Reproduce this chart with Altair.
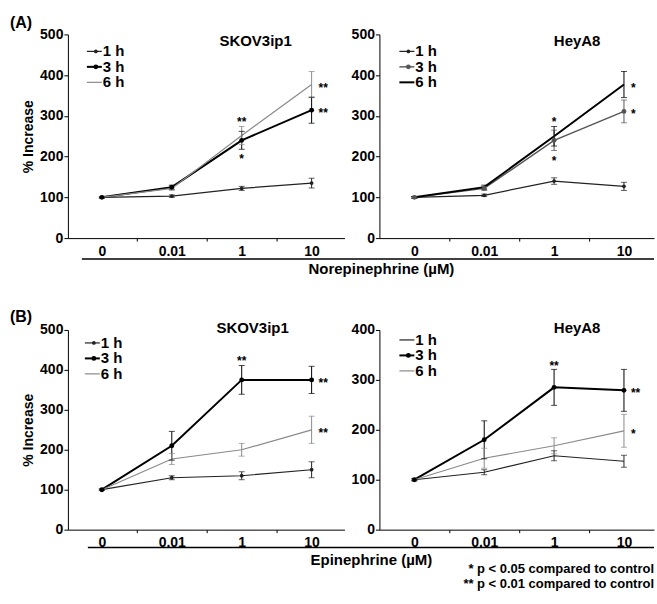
import altair as alt
import pandas as pd

FONT = "Liberation Sans"
doses = ["0", "0.01", "1", "10"]
series = ["1 h", "3 h", "6 h"]

# ---- (A) Norepinephrine, SKOV3ip1
a1_1h = [100, 103, 122, 135]
a1_1h_err = [2, 3, 5, 12]
a1_3h = [100, 125, 240, 314]
a1_3h_err = [2, 5, 22, 32]
a1_6h = [100, 122, 252, 377]
a1_6h_err = [2, 5, 22, 32]
a1_star_idx = [2, 2, 3, 3]
a1_star_val = [292, 201, 377, 314]
a1_star_txt = ["**", "*", "**", "**"]
a1_star_side = ["c", "c", "r", "r"]

# ---- (A) Norepinephrine, HeyA8
a2_1h = [100, 105, 140, 127]
a2_1h_err = [2, 3, 8, 10]
a2_3h = [100, 122, 240, 311]
a2_3h_err = [2, 5, 25, 28]
a2_6h = [100, 125, 250, 377]
a2_6h_err = [2, 5, 24, 32]
a2_star_idx = [2, 2, 3, 3]
a2_star_val = [292, 196, 377, 311]
a2_star_txt = ["*", "*", "*", "*"]
a2_star_side = ["c", "c", "r", "r"]

# ---- (B) Epinephrine, SKOV3ip1
b1_1h = [100, 130, 135, 150]
b1_1h_err = [2, 5, 10, 20]
b1_3h = [100, 210, 375, 375]
b1_3h_err = [2, 36, 36, 34]
b1_6h = [100, 177, 200, 250]
b1_6h_err = [2, 14, 16, 34]
b1_star_idx = [2, 3, 3]
b1_star_val = [430, 375, 250]
b1_star_txt = ["**", "**", "**"]
b1_star_side = ["c", "r", "r"]

# ---- (B) Epinephrine, HeyA8
b2_1h = [100, 115, 148, 137]
b2_1h_err = [2, 5, 10, 12]
b2_3h = [100, 180, 285, 279]
b2_3h_err = [2, 38, 36, 42]
b2_6h = [100, 143, 168, 198]
b2_6h_err = [2, 20, 16, 33]
b2_star_idx = [2, 3, 3]
b2_star_val = [333, 279, 198]
b2_star_txt = ["**", "**", "*"]
b2_star_side = ["c", "r", "r"]

label_expr = " : ".join(f"datum.value == {i} ? '{d}'" for i, d in enumerate(doses)) + " : ''"


def panel(vals, errs, stars, title, ymax, width, height, xdom, colors, widths, sizes,
          title_x, title_y, leg_x, leg_y, ytitle=None, extras=()):
    rows = []
    for s, v, e in zip(series, vals, errs):
        for i, (vv, ee) in enumerate(zip(v, e)):
            rows.append({"series": s, "idx": i, "value": vv, "lo": vv - ee, "hi": vv + ee})
    df = pd.DataFrame(rows)
    sidx, sval, stxt, sside = stars
    sdf = pd.DataFrame({"idx": sidx, "value": sval, "txt": stxt, "side": sside})

    xs = alt.Scale(domain=xdom, nice=False, zero=False)
    ys = alt.Scale(domain=[0, ymax], nice=False, zero=True)
    xaxis = alt.Axis(values=[0, 0.5, 1, 1.5, 2, 2.5, 3], labelExpr=label_expr, grid=False,
                     tickSize=3, tickOpacity={"condition": {"test": "datum.value % 1 != 0", "value": 1}, "value": 0},
                     labelOverlap=False, labelFlush=False,
                     labelFont=FONT, labelFontWeight="bold", labelFontSize=14, labelColor="black",
                     labelPadding=3, domainColor="black", tickColor="black", title=None)
    yaxis = alt.Axis(values=list(range(0, ymax + 1, 100)), grid=False, tickSize=4,
                     labelFont=FONT, labelFontWeight="bold", labelFontSize=14, labelColor="black",
                     labelPadding=1, domainColor="black", tickColor="black",
                     title=ytitle if ytitle else None, titleFont=FONT, titleFontWeight="bold",
                     titleFontSize=14, titleColor="black", titlePadding=4)
    X = alt.X("idx:Q", scale=xs, axis=xaxis)
    color = alt.Color("series:N", scale=alt.Scale(type="ordinal", domain=series, range=colors), legend=None)
    sw = alt.StrokeWidth("series:N", scale=alt.Scale(type="ordinal", domain=series, range=widths), legend=None)
    sz = alt.Size("series:N", scale=alt.Scale(type="ordinal", domain=series, range=sizes), legend=None)

    base = alt.Chart(df)
    lines = base.mark_line().encode(x=X, y=alt.Y("value:Q", scale=ys, axis=yaxis), color=color, strokeWidth=sw, detail="series:N")
    pts = base.mark_circle(opacity=1).encode(x=X, y=alt.Y("value:Q", scale=ys, axis=None), color=color, size=sz)
    bars = base.mark_rule(strokeWidth=1).encode(x=X, y=alt.Y("lo:Q", scale=ys, axis=None), y2="hi:Q", color=color)
    cap_lo = base.mark_tick(orient="horizontal", size=6, thickness=1).encode(x=X, y=alt.Y("lo:Q", scale=ys, axis=None), color=color)
    cap_hi = base.mark_tick(orient="horizontal", size=6, thickness=1).encode(x=X, y=alt.Y("hi:Q", scale=ys, axis=None), color=color)

    sbase = alt.Chart(sdf)
    star_c = sbase.transform_filter("datum.side == 'c'").mark_text(
        font=FONT, fontWeight="bold", fontSize=12, baseline="middle", align="center", dy=3, color="black"
    ).encode(x=X, y=alt.Y("value:Q", scale=ys, axis=None), text="txt:N")
    star_r = sbase.transform_filter("datum.side == 'r'").mark_text(
        font=FONT, fontWeight="bold", fontSize=12, baseline="middle", align="left", dx=7, dy=3, color="black"
    ).encode(x=X, y=alt.Y("value:Q", scale=ys, axis=None), text="txt:N")

    tdf = pd.DataFrame({"t": [title]})
    ttl = alt.Chart(tdf).mark_text(font=FONT, fontWeight="bold", fontSize=15, align="center",
                                   baseline="middle", color="black").encode(
        x=alt.value(title_x), y=alt.value(title_y), text="t:N")

    ldf = pd.DataFrame({"series": series})
    LY = alt.Y("series:N", scale=alt.Scale(type="point", domain=series, range=[leg_y, leg_y + 31], padding=0), axis=None)
    lbase = alt.Chart(ldf)
    lrule = lbase.mark_rule().encode(x=alt.value(leg_x), x2=alt.value(leg_x + 15), y=LY, color=color, strokeWidth=sw)
    lpt = lbase.mark_circle(opacity=1).encode(x=alt.value(leg_x + 9), y=LY, color=color, size=sz)
    ltxt = lbase.mark_text(font=FONT, fontWeight="bold", fontSize=15, align="left", baseline="middle",
                           dx=0, color="black").encode(x=alt.value(leg_x + 16), y=LY, text="series:N")

    layers = [lines, bars, cap_lo, cap_hi, pts, star_c, star_r, ttl, lrule, lpt, ltxt] + list(extras)
    return alt.layer(*layers).resolve_scale(y="independent").properties(width=width, height=height)


def note(text, x, y, size=15, align="left"):
    return alt.Chart(pd.DataFrame({"t": [text]})).mark_text(
        font=FONT, fontWeight="bold", fontSize=size, align=align, baseline="middle", color="black"
    ).encode(x=alt.value(x), y=alt.value(y), text="t:N")


def hline(x0, x1, y):
    return alt.Chart(pd.DataFrame({"a": [0]})).mark_rule(color="black", strokeWidth=1.5).encode(
        x=alt.value(x0), x2=alt.value(x1), y=alt.value(y))


LEFT_DOM = [-0.486, 3.47]
RIGHT_DOM = [-0.5, 3.43]
STD_COL = ["#222222", "#000000", "#8a8a8a"]
STD_W = [1.2, 2.0, 1.2]
STD_S = [14, 24, 0]

A1 = panel([a1_1h, a1_3h, a1_6h], [a1_1h_err, a1_3h_err, a1_6h_err],
           (a1_star_idx, a1_star_val, a1_star_txt, a1_star_side),
           "SKOV3ip1", 500, 277, 204, LEFT_DOM, STD_COL, STD_W, STD_S,
           188, 7, 19, 17, ytitle="% Increase",
           extras=[note("(A)", -58, -11, 16), hline(14, 587, 225),
                   note("Norepinephrine (µM)", 314, 235, 15, "center")])
A2 = panel([a2_1h, a2_3h, a2_6h], [a2_1h_err, a2_3h_err, a2_6h_err],
           (a2_star_idx, a2_star_val, a2_star_txt, a2_star_side),
           "HeyA8", 500, 275, 204, RIGHT_DOM, ["#222222", "#555555", "#000000"], [1.2, 1.4, 2.0], STD_S,
           198, 7, 20, 17)
B1 = panel([b1_1h, b1_3h, b1_6h], [b1_1h_err, b1_3h_err, b1_6h_err],
           (b1_star_idx, b1_star_val, b1_star_txt, b1_star_side),
           "SKOV3ip1", 500, 277, 200, LEFT_DOM, STD_COL, STD_W, STD_S,
           185, -2, 17, 13, ytitle="% Increase",
           extras=[note("(B)", -58, -13, 16), hline(20, 587, 218),
                   note("Epinephrine (µM)", 304, 230, 15, "center")])
B2 = panel([b2_1h, b2_3h, b2_6h], [b2_1h_err, b2_3h_err, b2_6h_err],
           (b2_star_idx, b2_star_val, b2_star_txt, b2_star_side),
           "HeyA8", 400, 275, 200, RIGHT_DOM, ["#222222", "#000000", "#8a8a8a"], STD_W, [0, 24, 0],
           198, -2, 20, 10,
           extras=[note("* p < 0.05 compared to control", 275, 239, 13, "right"),
                   note("** p < 0.01 compared to control", 275, 254, 13, "right")])

rowA = alt.hconcat(A1, A2, spacing=35, bounds="flush").resolve_scale(
    color="independent", strokeWidth="independent", size="independent")
rowB = alt.hconcat(B1, B2, spacing=35, bounds="flush").resolve_scale(
    color="independent", strokeWidth="independent", size="independent")

# the nested row has no height signal under "flush", so the spacing carries row A's height (204) + gap (92)
chart = alt.vconcat(rowA, rowB, spacing=296, bounds="flush").resolve_scale(
    color="independent", strokeWidth="independent", size="independent"
).properties(
    padding={"left": 10, "top": 15, "right": 2, "bottom": 10},
    background="white"
).configure_view(stroke=None)

chart.save("out.html", embed_options={"renderer": "svg", "actions": False})
